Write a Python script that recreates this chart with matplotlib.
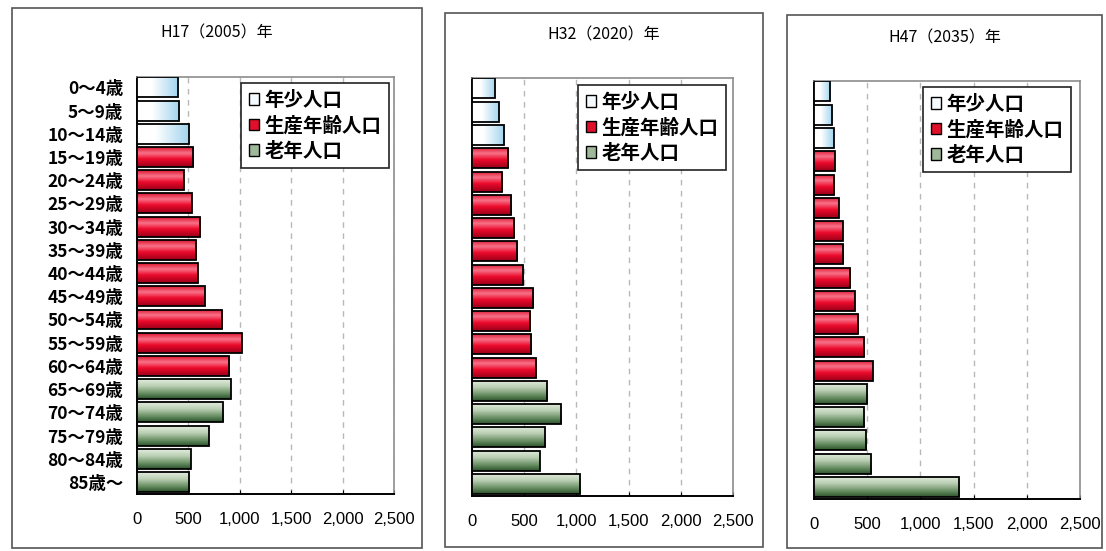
import numpy as np
import matplotlib
matplotlib.use("Agg")
import matplotlib.pyplot as plt
from matplotlib.patches import Rectangle, Patch
from matplotlib.colors import to_rgb

plt.rcParams['font.family'] = ['Noto Sans CJK JP', 'DejaVu Sans']

# age groups, young to old
ages = ['0～4歳', '5～9歳', '10～14歳', '15～19歳', '20～24歳', '25～29歳',
        '30～34歳', '35～39歳', '40～44歳', '45～49歳', '50～54歳', '55～59歳',
        '60～64歳', '65～69歳', '70～74歳', '75～79歳', '80～84歳', '85歳～']
# 0: 年少人口, 1: 生産年齢人口, 2: 老年人口
group = [0, 0, 0, 1, 1, 1, 1, 1, 1, 1, 1, 1, 1, 2, 2, 2, 2, 2]
group_names = ['年少人口', '生産年齢人口', '老年人口']

titles = ['H17（2005）年', 'H32（2020）年', 'H47（2035）年']
pop_2005 = [399, 409, 506, 545, 457, 535, 613, 574, 593, 661, 827, 1021,
            895, 914, 837, 700, 525, 506]
pop_2020 = [225, 263, 311, 346, 289, 378, 406, 432, 489, 585, 559, 566,
            614, 719, 853, 700, 648, 1037]
pop_2035 = [152, 171, 186, 195, 190, 233, 270, 274, 342, 383, 417, 474,
            552, 499, 474, 490, 539, 1365]
series = [pop_2005, pop_2020, pop_2035]
xticks = [0, 500, 1000, 1500, 2000, 2500]

W, H = 1106, 551

# pixel layout: outer frame, plot area, legend corner, title y
frames = [(12, 8, 422, 548), (445, 13, 763, 547), (787, 15, 1102, 548)]
plots = [(137, 77, 394, 494), (472, 78, 733, 496), (814, 81, 1080, 499)]
legend_at = [(241, 83), (578, 85), (923, 87)]
title_y = [33, 35, 38]

# gradient stops (position, colour) per group
vert_stops = {
    1: [(0.0, '#dc1430'), (0.3, '#f87288'), (0.6, '#ec0a2c'), (1.0, '#9a0018')],
    2: [(0.0, '#e4ede0'), (0.35, '#b9cfb2'), (0.7, '#6b9066'), (1.0, '#2a522a')],
}
horiz_stops = [(0.0, '#ffffff'), (0.35, '#ffffff'), (1.0, '#9fd3ee')]
legend_face = ['#f4fafd', '#e0102a', '#9fb89a']


def ramp(stops, n=64):
    t = np.linspace(0, 1, n)
    pos = [s[0] for s in stops]
    cols = np.array([to_rgb(s[1]) for s in stops])
    return np.stack([np.interp(t, pos, cols[:, k]) for k in range(3)], axis=-1)


def px(x0, y0, x1, y1):
    return [x0 / W, 1 - y1 / H, (x1 - x0) / W, (y1 - y0) / H]


fig = plt.figure(figsize=(W / 100, H / 100), dpi=100)

for k in range(3):
    fx0, fy0, fx1, fy1 = frames[k]
    fig.patches.append(Rectangle((fx0 / W, 1 - fy1 / H), (fx1 - fx0) / W, (fy1 - fy0) / H,
                                 transform=fig.transFigure, fill=False,
                                 edgecolor='#555555', lw=1.2))
    ax = fig.add_axes(px(*plots[k]))
    vals = series[k]
    y = np.arange(len(ages))
    h = 0.86
    bars = ax.barh(y, vals, height=h, facecolor='none', edgecolor='black',
                   lw=1.3, zorder=4)
    for i, b in enumerate(bars):
        g = group[i]
        if g == 0:
            img = ramp(horiz_stops)[np.newaxis, :, :]
        else:
            img = ramp(vert_stops[g])[:, np.newaxis, :]
        im = ax.imshow(img, extent=(0, vals[i], y[i] + h / 2, y[i] - h / 2),
                       origin='upper', aspect='auto', zorder=3,
                       interpolation='bilinear')
        im.set_clip_path(b)

    ax.set_xlim(0, 2500)
    ax.set_ylim(17.52, -0.45)
    ax.set_xticks(xticks)
    ax.set_xticklabels([f'{v:,}' for v in xticks], family=['Liberation Sans'],
                       fontsize=12)
    ax.tick_params(axis='x', direction='in', length=3, pad=13)
    ax.set_yticks(y)
    if k == 0:
        ax.set_yticklabels(ages, fontsize=12.5, fontweight='bold')
        ax.tick_params(axis='y', length=0, pad=10)
    else:
        ax.set_yticklabels([])
        ax.tick_params(axis='y', length=0)
    ax.xaxis.grid(True, ls=(0, (4, 4)), color='#b8b8b8', lw=1)
    ax.set_axisbelow(True)
    for s in ['top', 'right']:
        ax.spines[s].set_color('#8c8c8c')
        ax.spines[s].set_linewidth(1.2)
    for s in ['left', 'bottom']:
        ax.spines[s].set_color('black')
        ax.spines[s].set_linewidth(1.4)

    fig.text((fx0 + fx1) / 2 / W, 1 - title_y[k] / H, titles[k],
             ha='center', va='center', fontsize=11.5)

    handles = [Patch(facecolor=legend_face[j], edgecolor='black', lw=1)
               for j in range(3)]
    lx, ly = legend_at[k]
    leg = ax.legend(handles, group_names, loc='upper left',
                    bbox_to_anchor=(lx / W, 1 - ly / H),
                    bbox_transform=fig.transFigure, borderaxespad=0,
                    fancybox=False, framealpha=1, edgecolor='#222222',
                    handlelength=0.55, handleheight=0.55, handletextpad=0.25,
                    labelspacing=0.32, borderpad=0.4,
                    prop={'size': 14, 'weight': 'bold'})
    leg.get_frame().set_linewidth(1.2)
    leg.set_zorder(10)

fig.savefig('out.png', dpi=100, facecolor='white')
